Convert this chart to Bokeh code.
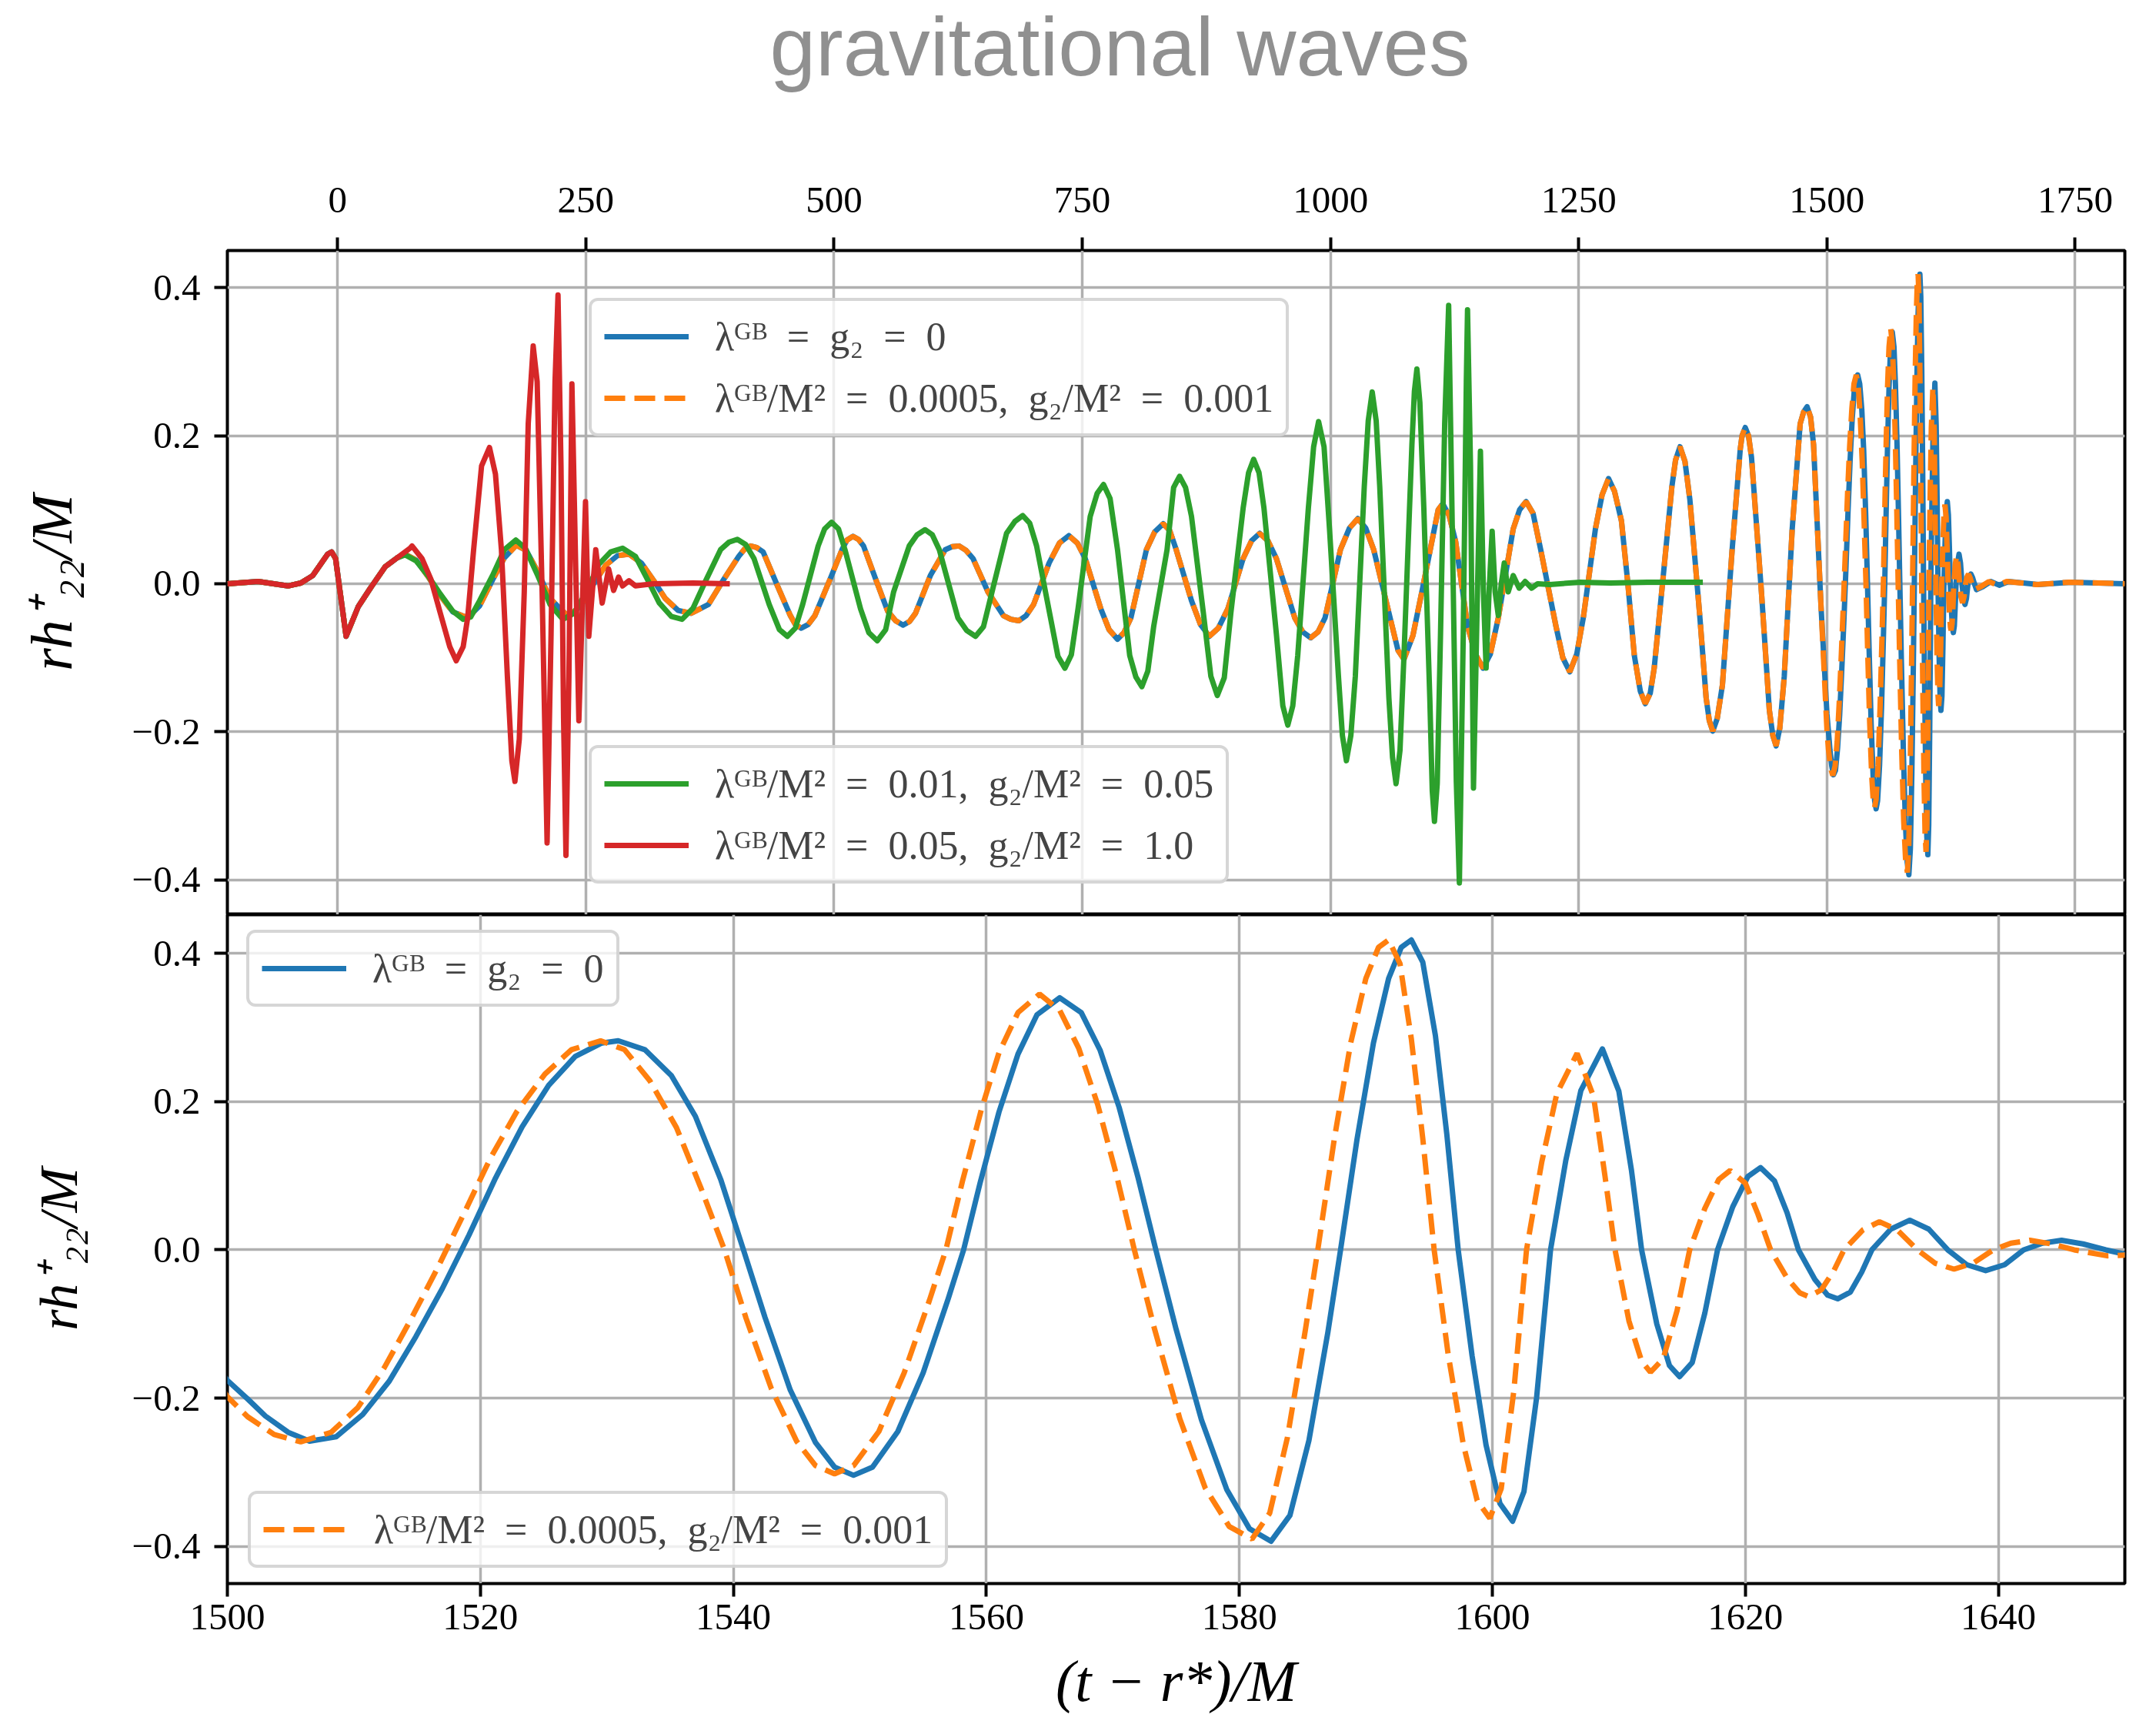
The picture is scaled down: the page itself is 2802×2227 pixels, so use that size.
from bokeh.plotting import figure
from bokeh.layouts import column
from bokeh.models import Range1d, FixedTicker, Legend, LegendItem, CustomJSTickFormatter, Label
from bokeh.embed import file_html
from bokeh.resources import INLINE

# ---------------- data ----------------
# common start of all waveforms (junk radiation)
EARLY_T = [-111, -80, -50, -37, -25, -10, -6, -2, 2.5, 8.6, 14.7, 20.8, 33, 48, 60]
EARLY_H = [0.0, 0.003, -0.003, 0.001, 0.011, 0.040, 0.043, 0.034, -0.011, -0.071, -0.051, -0.031, -0.006, 0.023, 0.035]

# lambda/M^2 = 0.05, g2/M^2 = 1.0
RED_T = [73, 75, 85, 94, 103.5, 113, 119.5, 126.5, 131, 137, 145, 153, 159, 165, 171, 175.5, 178.6, 183, 188,
         192, 197, 201, 206, 211, 215, 219, 222, 225, 227.6, 230, 233, 236, 243, 249.7, 253, 260, 266.5, 273,
         278, 283, 287, 293.5, 300, 318, 358, 395]
RED_H = [0.048, 0.051, 0.034, 0.006, -0.040, -0.085, -0.104, -0.085, -0.046, 0.046, 0.159, 0.184, 0.148, 0.046,
         -0.125, -0.239, -0.267, -0.210, -0.011, 0.216, 0.321, 0.273, -0.011, -0.350, -0.068, 0.273, 0.390, 0.159,
         -0.182, -0.367, -0.125, 0.270, -0.185, 0.111, -0.071, 0.046, -0.026, 0.020, -0.009, 0.009, -0.003,
         0.004, -0.003, 0.0, 0.001, 0.0]

# lambda/M^2 = 0.01, g2/M^2 = 0.05
GREEN_T = [68, 79, 91, 103.5, 116, 126.5, 134, 143, 156, 168, 179.5, 189, 201.6, 214, 227, 238, 250.6, 263, 275,
           287, 300, 312, 324, 336, 347, 358, 370, 385.7, 394, 402.6, 411, 419.4, 434.7, 445, 453, 461, 468.4,
           484, 490.5, 497.5, 504.5, 511, 526.7, 535, 543.5, 552, 560, 575.7, 583.5, 591.6, 599, 606, 624.7,
           633.5, 642.5, 650.5, 658, 673.7, 682, 690, 697, 704, 718, 725.5, 732.5, 739, 745.7, 758, 765, 771.4,
           778, 785.5, 797.8, 804, 810, 816, 822, 835.4, 842, 848, 854, 860, 872, 879.5, 886, 893, 899.6, 912,
           917.5, 922.6, 928, 933, 945.5, 952, 957, 962, 967, 977.7, 983, 988, 993.5, 999, 1008, 1012, 1016,
           1020.5, 1025, 1034, 1038, 1042, 1046, 1049.6, 1058.8, 1062.5, 1066, 1070, 1074, 1082, 1084.5, 1087,
           1090, 1094, 1100, 1102.5, 1104.7, 1107.5, 1110.8, 1115, 1119, 1123, 1126.7, 1129.8, 1133.7, 1136.8,
           1138, 1141, 1144, 1148, 1151, 1154, 1156.7, 1159.7, 1162.8, 1165.8, 1169, 1172, 1175, 1179, 1184,
           1190, 1196, 1202.6, 1208.7, 1221, 1251.5, 1282, 1319, 1375]
GREEN_H = [0.039, 0.031, 0.011, -0.014, -0.037, -0.048, -0.045, -0.023, 0.011, 0.046, 0.059, 0.048, 0.011,
           -0.028, -0.048, -0.040, -0.011, 0.026, 0.043, 0.048, 0.037, 0.006, -0.026, -0.044, -0.048, -0.033,
           0.002, 0.046, 0.056, 0.060, 0.053, 0.034, -0.028, -0.062, -0.071, -0.060, -0.028, 0.051, 0.074, 0.083,
           0.074, 0.046, -0.034, -0.066, -0.077, -0.062, -0.011, 0.051, 0.066, 0.073, 0.066, 0.046, -0.046,
           -0.063, -0.071, -0.058, -0.017, 0.068, 0.084, 0.092, 0.082, 0.051, -0.046, -0.098, -0.114, -0.096,
           -0.034, 0.091, 0.122, 0.134, 0.115, 0.046, -0.097, -0.126, -0.139, -0.118, -0.057, 0.046, 0.130, 0.145,
           0.130, 0.091, -0.040, -0.125, -0.151, -0.127, -0.040, 0.102, 0.150, 0.168, 0.150, 0.102, -0.068,
           -0.165, -0.191, -0.165, -0.097, 0.102, 0.185, 0.219, 0.185, 0.074, -0.125, -0.205, -0.239, -0.205,
           -0.125, 0.131, 0.220, 0.259, 0.220, 0.131, -0.154, -0.235, -0.270, -0.225, -0.097, 0.188, 0.260, 0.290,
           0.245, 0.102, -0.154, -0.280, -0.321, -0.270, -0.068, 0.216, 0.376, 0.046, -0.267, -0.404, -0.068,
           0.273, 0.370, 0.159, -0.276, -0.011, 0.179, -0.011, -0.114, -0.011, 0.071, -0.011, -0.043, 0.0, 0.028,
           -0.011, 0.011, -0.006, 0.003, -0.006, 0.0, -0.001, 0.002, 0.001, 0.002, 0.002]

# inspiral shared by lambda = g2 = 0 and lambda/M^2 = 0.0005 (indistinguishable in the top panel)
INSP_T = [68, 79, 91, 103.5, 116, 131, 143, 156, 168, 180, 190, 202, 214, 232, 245, 258, 270, 282, 293.5, 306,
          318, 330, 343, 356, 373.5, 389, 404, 410, 416, 422, 428.6, 444, 456, 461, 467, 474, 480.7, 496, 508,
          513, 519, 524.5, 529.7, 542, 554, 562, 569.5, 576, 582, 597, 612, 619, 626, 633, 640, 655, 670.6, 678,
          686, 693.5, 701, 716.6, 727, 736.5, 745, 753, 768.7, 777, 785.5, 792, 799, 814.6, 823, 831.5, 838,
          844.6, 860, 869, 878, 887, 896.6, 912, 920.5, 928.7, 937, 945.5, 964, 972, 980, 987.5, 994.5, 1010,
          1019, 1027.5, 1035.5, 1043.5, 1062, 1068, 1074, 1083, 1092, 1104.6, 1108.5, 1113, 1119.5, 1126, 1138,
          1146, 1153.6, 1161, 1169, 1184, 1190.5, 1197, 1204, 1211.7, 1227, 1234, 1241, 1248, 1254.6, 1266.8,
          1273.5, 1280, 1286, 1293, 1299.5, 1306, 1312, 1317, 1322, 1326, 1335.6, 1343.8, 1347.5, 1352, 1357,
          1361.9, 1371.7, 1378.3, 1381.5, 1385, 1389.5, 1394.7, 1404.5, 1412.7, 1414.5, 1417.7, 1421, 1424, 1434,
          1442, 1445.5, 1448.8, 1452.5, 1457, 1465, 1473, 1476.5, 1480, 1483.5, 1486.5, 1494]
INSP_H = [0.040, 0.032, 0.010, -0.016, -0.038, -0.046, -0.030, 0.005, 0.035, 0.052, 0.045, 0.015, -0.020,
          -0.044, -0.030, 0.0, 0.025, 0.038, 0.040, 0.028, 0.005, -0.020, -0.036, -0.040, -0.028, 0.006, 0.037,
          0.047, 0.051, 0.049, 0.043, -0.006, -0.043, -0.055, -0.060, -0.055, -0.043, 0.006, 0.046, 0.059, 0.064,
          0.060, 0.051, 0.006, -0.037, -0.050, -0.056, -0.051, -0.040, 0.011, 0.046, 0.050, 0.051, 0.045, 0.034,
          -0.011, -0.043, -0.048, -0.050, -0.043, -0.028, 0.028, 0.055, 0.065, 0.055, 0.034, -0.034, -0.062,
          -0.075, -0.066, -0.046, 0.046, 0.070, 0.081, 0.072, 0.046, -0.023, -0.055, -0.071, -0.060, -0.034,
          0.034, 0.058, 0.068, 0.058, 0.034, -0.046, -0.065, -0.073, -0.065, -0.046, 0.046, 0.075, 0.088, 0.075,
          0.046, -0.057, -0.090, -0.102, -0.070, -0.011, 0.074, 0.100, 0.108, 0.092, 0.057, -0.057, -0.095,
          -0.114, -0.095, -0.046, 0.074, 0.100, 0.111, 0.095, 0.046, -0.057, -0.100, -0.119, -0.095, -0.046,
          0.074, 0.120, 0.142, 0.125, 0.085, 0.0, -0.097, -0.145, -0.162, -0.148, -0.114, 0.017, 0.131, 0.167,
          0.185, 0.165, 0.114, -0.040, -0.154, -0.185, -0.199, -0.182, -0.137, 0.046, 0.182, 0.200, 0.211, 0.200,
          0.171, -0.011, -0.171, -0.205, -0.219, -0.195, -0.125, 0.074, 0.216, 0.232, 0.239, 0.225, 0.188,
          -0.030]

# lambda = g2 = 0 : late inspiral, merger, ringdown
GR_T = [1500, 1501.6, 1503.0, 1504.8, 1506.5, 1508.6, 1510.7, 1512.8, 1514.9, 1517.0, 1519.1, 1521.2, 1523.3,
        1525.4, 1527.5, 1529.6, 1530.9, 1533.0, 1535.1, 1537.0, 1539.0, 1540.8, 1542.5, 1544.5, 1546.5, 1548.0,
        1549.5, 1551.0, 1553.0, 1555.0, 1557.0, 1558.2, 1559.5, 1561.0, 1562.5, 1564.0, 1565.8, 1567.5, 1569.0,
        1570.5, 1572.0, 1573.4, 1575.0, 1577.0, 1579.0, 1580.8, 1582.5, 1584.0, 1585.5, 1587.0, 1588.0, 1589.3,
        1590.6, 1591.8, 1592.8, 1593.6, 1594.5, 1595.5, 1596.4, 1597.3, 1598.4, 1599.5, 1600.6, 1601.6, 1602.5,
        1603.5, 1604.6, 1605.8, 1607.0, 1608.7, 1610.0, 1611.0, 1611.8, 1613.0, 1614.0, 1614.8, 1615.8, 1616.8,
        1617.8, 1619.0, 1620.2, 1621.2, 1622.3, 1623.3, 1624.2, 1625.5, 1626.5, 1627.3, 1628.3, 1629.2, 1630.0,
        1631.5, 1633.0, 1634.5, 1636.0, 1637.5, 1639.0, 1640.5, 1642.0, 1643.5, 1645.0, 1646.7, 1648.5, 1650.6,
        1657, 1665, 1673.5, 1683, 1713, 1746, 1800]
GR_H = [-0.176, -0.201, -0.224, -0.246, -0.258, -0.252, -0.222, -0.177, -0.117, -0.052, 0.020, 0.097, 0.166,
        0.222, 0.261, 0.279, 0.282, 0.270, 0.235, 0.180, 0.095, 0.0, -0.091, -0.189, -0.260, -0.293, -0.304,
        -0.293, -0.245, -0.166, -0.065, 0.0, 0.090, 0.186, 0.264, 0.317, 0.340, 0.320, 0.269, 0.192, 0.097, 0.0,
        -0.107, -0.229, -0.323, -0.376, -0.393, -0.358, -0.257, -0.111, 0.0, 0.149, 0.279, 0.366, 0.408, 0.418,
        0.388, 0.289, 0.156, 0.0, -0.143, -0.263, -0.342, -0.366, -0.326, -0.199, 0.0, 0.120, 0.215, 0.271,
        0.214, 0.107, 0.0, -0.100, -0.156, -0.171, -0.152, -0.085, 0.0, 0.058, 0.099, 0.111, 0.093, 0.050, 0.0,
        -0.040, -0.061, -0.066, -0.057, -0.030, 0.0, 0.028, 0.040, 0.028, 0.0, -0.020, -0.028, -0.020, 0.0,
        0.009, 0.013, 0.008, 0.0, -0.008, -0.004, 0.003, -0.002, 0.003, -0.001, 0.002, 0.0]

# lambda/M^2 = 0.0005, g2/M^2 = 0.001 : late inspiral, merger, ringdown
DGB_T = [1500, 1501.6, 1503.7, 1505.8, 1508.2, 1510.3, 1512.4, 1514.5, 1516.6, 1518.7, 1520.8, 1522.9, 1525.1,
         1527.2, 1529.5, 1531.4, 1533.4, 1535.5, 1537.4, 1539.3, 1541.0, 1543.0, 1545.0, 1546.5, 1548.0, 1549.5,
         1551.5, 1553.5, 1555.5, 1556.8, 1558.1, 1559.6, 1561.0, 1562.5, 1564.2, 1565.8, 1567.3, 1568.8, 1570.3,
         1571.7, 1573.3, 1575.3, 1577.3, 1579.2, 1581.0, 1582.4, 1583.8, 1585.2, 1586.2, 1587.5, 1588.8, 1590.0,
         1591.0, 1591.8, 1592.7, 1593.6, 1594.5, 1595.4, 1596.5, 1597.7, 1598.8, 1599.8, 1600.7, 1601.7, 1602.7,
         1603.9, 1605.1, 1606.7, 1608.0, 1608.9, 1609.7, 1610.8, 1611.8, 1612.5, 1613.5, 1614.6, 1615.6, 1616.8,
         1617.9, 1618.8, 1620.0, 1621.0, 1622.0, 1623.3, 1624.3, 1625.0, 1626.0, 1627.0, 1627.8, 1629.3, 1630.6,
         1632.0, 1633.6, 1635.0, 1636.5, 1638.0, 1639.6, 1641.0, 1642.5, 1644.2, 1646.0, 1648.6, 1655, 1663,
         1672, 1681, 1711, 1744, 1800]
DGB_H = [-0.198, -0.225, -0.249, -0.259, -0.246, -0.213, -0.159, -0.094, -0.025, 0.049, 0.124, 0.187, 0.237,
         0.270, 0.282, 0.270, 0.228, 0.165, 0.085, 0.0, -0.092, -0.187, -0.258, -0.291, -0.302, -0.291, -0.245,
         -0.166, -0.068, 0.0, 0.092, 0.189, 0.266, 0.320, 0.345, 0.323, 0.272, 0.196, 0.100, 0.0, -0.107, -0.228,
         -0.321, -0.373, -0.390, -0.355, -0.253, -0.110, 0.0, 0.149, 0.279, 0.366, 0.408, 0.418, 0.386, 0.284,
         0.150, 0.0, -0.140, -0.262, -0.338, -0.362, -0.322, -0.190, 0.0, 0.118, 0.211, 0.265, 0.207, 0.100, 0.0,
         -0.096, -0.150, -0.165, -0.147, -0.082, 0.0, 0.056, 0.095, 0.107, 0.090, 0.048, 0.0, -0.038, -0.058,
         -0.063, -0.054, -0.028, 0.0, 0.027, 0.038, 0.027, 0.0, -0.018, -0.026, -0.018, 0.0, 0.009, 0.013, 0.008,
         0.0, -0.008, -0.004, 0.003, -0.002, 0.003, -0.001, 0.002, 0.0]

TOP_XTICKS = [0, 250, 500, 750, 1000, 1250, 1500, 1750]
BOT_XTICKS = [1500, 1520, 1540, 1560, 1580, 1600, 1620, 1640]
YTICKS = [-0.4, -0.2, 0.0, 0.2, 0.4]

SP = "\u2002"
LABEL_GR = f"λᴳᴮ{SP}={SP}g₂{SP}={SP}0"
LABEL_S = f"λᴳᴮ/M²{SP}={SP}0.0005,{SP}g₂/M²{SP}={SP}0.001"
LABEL_M = f"λᴳᴮ/M²{SP}={SP}0.01,{SP}g₂/M²{SP}={SP}0.05"
LABEL_L = f"λᴳᴮ/M²{SP}={SP}0.05,{SP}g₂/M²{SP}={SP}1.0"
TITLE = "gravitational waves"
YLABEL = "rh⁺₂₂/M"
XLABEL = "(t − r*)/M"

# ---------------- assemble series ----------------
blue_t = EARLY_T + INSP_T + GR_T
blue_h = EARLY_H + INSP_H + GR_H
orange_t = EARLY_T + INSP_T + DGB_T
orange_h = EARLY_H + INSP_H + DGB_H
green_t = EARLY_T + GREEN_T
green_h = EARLY_H + GREEN_H
red_t = EARLY_T + RED_T
red_h = EARLY_H + RED_H

BLUE, ORANGE, GREEN, RED = "#1f77b4", "#ff7f0e", "#2ca02c", "#d62728"
SERIF = "Liberation Serif"
LW = 7
DASH = "27 12"
FL, FR, FW = 295, 41, 2466          # frame left border, right border, frame width (pixels)
TITLE_H = 145

yfmt = CustomJSTickFormatter(code="""
const v = Math.abs(tick) < 1e-9 ? 0 : tick;
const s = Math.abs(v).toFixed(1);
return v < 0 ? '\\u2212' + s : s;
""")


def style(p):
    p.outline_line_color = "black"
    p.outline_line_width = 4
    p.outline_line_alpha = 1
    p.background_fill_color = "white"
    p.border_fill_color = "white"
    for ax in p.axis:
        ax.axis_line_color = None
        ax.major_tick_line_color = "black"
        ax.major_tick_line_width = 4
        ax.major_tick_out = 17
        ax.major_tick_in = 0
        ax.minor_tick_line_color = None
        ax.major_label_text_font = SERIF
        ax.major_label_text_font_size = "49px"
        ax.major_label_text_color = "black"
        ax.axis_label_text_font = SERIF
        ax.axis_label_text_font_style = "italic"
        ax.axis_label_text_color = "black"
    p.grid.grid_line_color = "#b0b0b0"
    p.grid.grid_line_width = 3.5


def mk_legend(items, loc):
    leg = Legend(items=items, location=loc, orientation="vertical")
    leg.label_text_font = SERIF
    leg.label_text_font_size = "52px"
    leg.glyph_width = 110
    leg.glyph_height = 60
    leg.label_height = 60
    leg.label_standoff = 34
    leg.spacing = 20
    leg.padding = 16
    leg.margin = 0
    leg.border_line_color = "#cccccc"
    leg.border_line_width = 4
    leg.border_line_alpha = 0.8
    leg.background_fill_color = "white"
    leg.background_fill_alpha = 0.8
    try:
        leg.border_radius = 12
    except Exception:
        pass
    return leg


# ---------------- title strip (frame aligned with the panels; x in page pixels) ----------------
tfig = figure(frame_width=FW, frame_height=TITLE_H, min_border_left=FL, min_border_right=FR,
              min_border_top=0, min_border_bottom=0,
              x_range=Range1d(FL, FL + FW), y_range=Range1d(0, TITLE_H),
              x_axis_type=None, y_axis_type=None,
              output_backend="svg", toolbar_location=None)
tfig.outline_line_color = None
tfig.background_fill_color = "white"
tfig.border_fill_color = "white"
tfig.add_layout(Label(x=1455, y=TITLE_H - 60, text=TITLE, text_align="center", text_baseline="alphabetic",
                      text_font="Liberation Sans", text_font_size="107px", text_color="#909090"))

# ---------------- top panel ----------------
top = figure(frame_width=FW, frame_height=863, min_border_left=FL, min_border_right=FR,
             min_border_top=325 - TITLE_H, min_border_bottom=0,
             x_range=Range1d(-111, 1800), y_range=Range1d(-0.447, 0.450),
             x_axis_location="above", output_backend="svg", toolbar_location=None)

r_b = top.line(blue_t, blue_h, color=BLUE, line_width=LW, line_join="round")
r_o = top.line(orange_t, orange_h, color=ORANGE, line_width=LW, line_dash=DASH)
r_g = top.line(green_t, green_h, color=GREEN, line_width=LW, line_join="round")
r_r = top.line(red_t, red_h, color=RED, line_width=LW, line_join="round")

top.xaxis.ticker = FixedTicker(ticks=TOP_XTICKS)
top.yaxis.ticker = FixedTicker(ticks=YTICKS)
top.yaxis.formatter = yfmt
top.yaxis.axis_label = YLABEL
style(top)
top.xaxis.major_label_standoff = 33
top.yaxis.major_label_standoff = 18
top.yaxis.axis_label_text_font_size = "76px"
top.yaxis.axis_label_standoff = 60

top.add_layout(mk_legend([LegendItem(label=LABEL_GR, renderers=[r_b]),
                          LegendItem(label=LABEL_S, renderers=[r_o])], (470, 621)))
top.add_layout(mk_legend([LegendItem(label=LABEL_M, renderers=[r_g]),
                          LegendItem(label=LABEL_L, renderers=[r_r])], (470, 40)))

# ---------------- bottom panel ----------------
bot = figure(frame_width=FW, frame_height=869, min_border_left=FL, min_border_right=FR,
             min_border_top=0, min_border_bottom=170,
             x_range=Range1d(1500, 1650), y_range=Range1d(-0.450, 0.452),
             output_backend="svg", toolbar_location=None)
b_b = bot.line(blue_t, blue_h, color=BLUE, line_width=LW, line_join="round")
b_o = bot.line(orange_t, orange_h, color=ORANGE, line_width=LW, line_dash=DASH)
bot.xaxis.ticker = FixedTicker(ticks=BOT_XTICKS)
bot.yaxis.ticker = FixedTicker(ticks=YTICKS)
bot.yaxis.formatter = yfmt
bot.xaxis.axis_label = XLABEL
bot.yaxis.axis_label = YLABEL
style(bot)
bot.xaxis.major_label_standoff = 10
bot.yaxis.major_label_standoff = 18
bot.xaxis.axis_label_text_font_size = "76px"
bot.xaxis.axis_label_standoff = 22
bot.yaxis.axis_label_text_font_size = "70px"
bot.yaxis.axis_label_standoff = 54

bot.add_layout(mk_legend([LegendItem(label=LABEL_GR, renderers=[b_b])], (25, 749)))
bot.add_layout(mk_legend([LegendItem(label=LABEL_S, renderers=[b_o])], (27, 20)))

layout = column(tfig, top, bot, spacing=0)
open("out.html", "w").write(file_html(layout, INLINE))
